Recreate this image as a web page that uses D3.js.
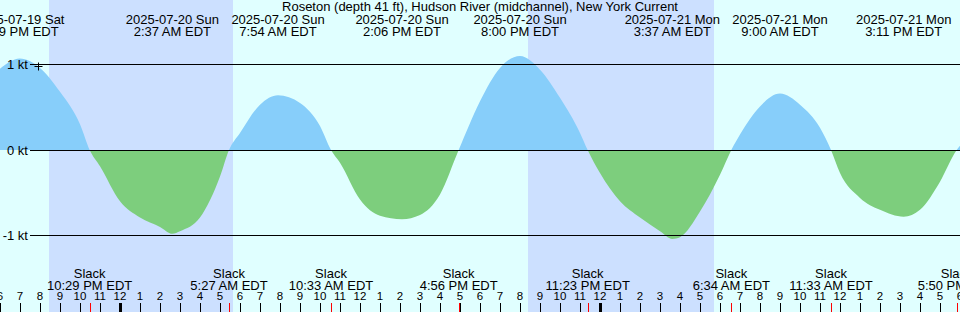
<!DOCTYPE html>
<html>
<head>
<meta charset="utf-8">
<script src="https://cdn.jsdelivr.net/npm/d3@7"></script>
<style>
    body { margin: 0; background: #fff; }
    svg { display: block; font-family: "Liberation Sans", Arial, sans-serif; }
    .lbl { font-size: 13px; fill: #000; }
    .hr { font-size: 11.5px; fill: #000; }
</style>
</head>
<body>
<svg id="chart"></svg>
<script>
const chartTitle = "Roseton (depth 41 ft), Hudson River (midchannel), New York Current";

// hourly current speed (kt), starting 2025-07-19 6 PM EDT
const startTime = "2025-07-19T18:00:00-04:00";
const hourlyKnots = [
    0.95, 1.07, 0.96, 0.68, 0.30, -0.19, -0.60, -0.79, -0.90, -0.95, -0.79, -0.31,
    0.20, 0.53, 0.64, 0.55, 0.28, -0.15, -0.58, -0.77, -0.81, -0.76, -0.52, 0.03,
    0.57, 0.96, 1.10, 0.94, 0.61, 0.20, -0.27, -0.60, -0.79, -0.95, -1.02, -0.72,
    -0.29, 0.18, 0.51, 0.65, 0.53, 0.26, -0.27, -0.56, -0.70, -0.77, -0.70, -0.37,
    0.05
];

// max flood / max ebb / slack events
const eventTimes = [
    "2025-07-19T18:59:00-04:00", "2025-07-19T22:29:00-04:00",
    "2025-07-20T02:37:00-04:00", "2025-07-20T05:27:00-04:00",
    "2025-07-20T07:54:00-04:00", "2025-07-20T10:33:00-04:00",
    "2025-07-20T14:06:00-04:00", "2025-07-20T16:56:00-04:00",
    "2025-07-20T20:00:00-04:00", "2025-07-20T23:23:00-04:00",
    "2025-07-21T03:37:00-04:00", "2025-07-21T06:34:00-04:00",
    "2025-07-21T09:00:00-04:00", "2025-07-21T11:33:00-04:00",
    "2025-07-21T15:11:00-04:00", "2025-07-21T17:50:00-04:00"
];
const eventKinds = ["max", "slack", "max", "slack", "max", "slack", "max", "slack",
    "max", "slack", "max", "slack", "max", "slack", "max", "slack"];
const eventKnots = [1.07, 0, -0.98, 0, 0.64, 0, -0.81, 0, 1.10, 0, -1.04, 0, 0.66, 0, -0.78, 0];

// night = sunset .. sunrise
const sunsetTimes = ["2025-07-19T20:27:00-04:00", "2025-07-20T20:24:00-04:00"];
const sunriseTimes = ["2025-07-20T05:39:00-04:00", "2025-07-21T05:42:00-04:00"];

const yTicks = [1, 0, -1];
const yTickLabels = ["1 kt", "0 kt", "-1 kt"];

const nowTime = "2025-07-19T19:55:00-04:00";
const nowKnots = 0.98;

const width = 960;
const height = 312;
const dayColor = "#e0ffff";
const nightColor = "#cce0ff";
const floodColor = "#87cefa";
const ebbColor = "#7dce7d";

const t0 = new Date(startTime);
const t1 = new Date(t0.getTime() + 48 * 3600e3);

const x = d3.scaleUtc().domain([t0, t1]).range([0, width]);
const y = d3.scaleLinear().domain([-1, 1]).range([235.5, 64.5]);

// EDT helpers (page may run in UTC)
const toEdt = d => new Date(d.getTime() - 4 * 3600e3);
const fmtDate = d3.utcFormat("%Y-%m-%d %a");
const fmtTime = d3.utcFormat("%-I:%M %p EDT");

const svg = d3.select("#chart")
    .attr("width", width)
    .attr("height", height);

svg.append("rect")
    .attr("width", width)
    .attr("height", height)
    .attr("fill", dayColor);

svg.append("g")
    .selectAll("rect")
    .data(sunsetTimes.map((s, i) => [new Date(s), new Date(sunriseTimes[i])]))
    .enter().append("rect")
    .attr("x", d => x(d[0]))
    .attr("width", d => x(d[1]) - x(d[0]))
    .attr("y", 0)
    .attr("height", height)
    .attr("fill", nightColor);

// merge hourly samples with event points; an event replaces an hourly
// sample that is very close to it (ends of the range are kept)
const events = eventTimes.map((s, i) => ({t: new Date(s), kind: eventKinds[i], v: eventKnots[i]}));
let samples = hourlyKnots.map((v, i) => ({t: new Date(t0.getTime() + i * 3600e3), v: v, end: i === 0 || i === hourlyKnots.length - 1}));
samples = samples.filter(s => s.end || !events.some(e => Math.abs(e.t - s.t) <= 15 * 60e3));
events.forEach(e => {
    if (!samples.some(s => Math.abs(s.t - e.t) < 60e3)) samples.push({t: e.t, v: e.v});
});
samples.sort((a, b) => a.t - b.t);

const area = d3.area()
    .x(d => x(d.t))
    .y0(y(0))
    .y1(d => y(d.v))
    .curve(d3.curveMonotoneX);

const defs = svg.append("defs");
defs.append("clipPath").attr("id", "above")
    .append("rect").attr("x", 0).attr("y", 0).attr("width", width).attr("height", y(0));
defs.append("clipPath").attr("id", "below")
    .append("rect").attr("x", 0).attr("y", y(0)).attr("width", width).attr("height", height - y(0));

svg.append("path")
    .datum(samples)
    .attr("d", area)
    .attr("fill", floodColor)
    .attr("clip-path", "url(#above)");

svg.append("path")
    .datum(samples)
    .attr("d", area)
    .attr("fill", ebbColor)
    .attr("clip-path", "url(#below)");

// knot lines + labels
const yAxis = svg.append("g");
yAxis.selectAll("line")
    .data(yTicks)
    .enter().append("line")
    .attr("x1", 30)
    .attr("x2", width)
    .attr("y1", d => Math.floor(y(d)) + 0.5)
    .attr("y2", d => Math.floor(y(d)) + 0.5)
    .attr("stroke", "#000")
    .attr("stroke-width", 1);
yAxis.selectAll("text")
    .data(yTicks)
    .enter().append("text")
    .attr("class", "lbl")
    .attr("x", 28)
    .attr("y", d => Math.floor(y(d)) + 5)
    .attr("text-anchor", "end")
    .text((d, i) => yTickLabels[i]);

// "now" cross
const nx = Math.round(x(new Date(nowTime))) + 0.5;
const ny = Math.round(y(nowKnots)) + 0.5;
svg.append("path")
    .attr("d", `M${nx - 4},${ny}H${nx + 4}M${nx},${ny - 4}V${ny + 4}`)
    .attr("stroke", "#000")
    .attr("stroke-width", 1);

svg.append("text")
    .attr("class", "lbl")
    .attr("x", width / 2)
    .attr("y", 11)
    .attr("text-anchor", "middle")
    .text(chartTitle);

// max events on top
const topLabels = svg.append("g")
    .selectAll("g")
    .data(events.filter(e => e.kind === "max"))
    .enter().append("g")
    .attr("transform", d => `translate(${x(d.t)},0)`);
topLabels.append("text").attr("class", "lbl").attr("y", 24).attr("text-anchor", "middle")
    .text(d => fmtDate(toEdt(d.t)));
topLabels.append("text").attr("class", "lbl").attr("y", 36).attr("text-anchor", "middle")
    .text(d => fmtTime(toEdt(d.t)));

// slack events at bottom
const slack = events.filter(e => e.kind === "slack");
const bottomLabels = svg.append("g")
    .selectAll("g")
    .data(slack)
    .enter().append("g")
    .attr("transform", d => `translate(${x(d.t)},0)`);
bottomLabels.append("text").attr("class", "lbl").attr("y", 278).attr("text-anchor", "middle")
    .text("Slack");
bottomLabels.append("text").attr("class", "lbl").attr("y", 290).attr("text-anchor", "middle")
    .text(d => fmtTime(toEdt(d.t)));

// hour ticks
const hours = d3.utcHour.range(t0, new Date(t1.getTime() + 1));
const hourG = svg.append("g");
hourG.selectAll("line")
    .data(hours)
    .enter().append("line")
    .attr("x1", d => Math.round(x(d)) + 0.5)
    .attr("x2", d => Math.round(x(d)) + 0.5)
    .attr("y1", 303)
    .attr("y2", height)
    .attr("stroke", "#000")
    .attr("stroke-width", d => toEdt(d).getUTCHours() === 0 ? 3 : 1);
hourG.selectAll("text")
    .data(hours)
    .enter().append("text")
    .attr("class", "hr")
    .attr("x", d => x(d))
    .attr("y", 300)
    .attr("text-anchor", "middle")
    .text(d => (toEdt(d).getUTCHours() + 11) % 12 + 1);

svg.append("g")
    .selectAll("line")
    .data(slack)
    .enter().append("line")
    .attr("x1", d => Math.round(x(d.t)) + 0.5)
    .attr("x2", d => Math.round(x(d.t)) + 0.5)
    .attr("y1", 303)
    .attr("y2", height)
    .attr("stroke", "#ff0000")
    .attr("stroke-width", 1);
</script>
</body>
</html>
